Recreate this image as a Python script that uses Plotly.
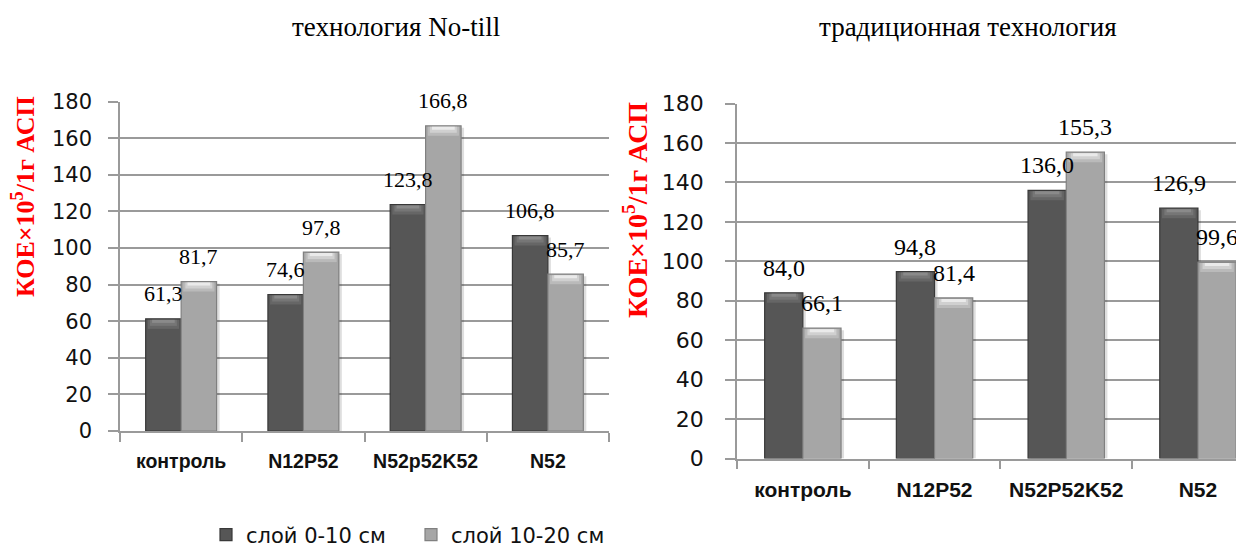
import plotly.graph_objects as go

# ---- data -------------------------------------------------------------
categories_notill = ["контроль", "N12P52", "N52p52K52", "N52"]
categories_trad = ["контроль", "N12P52", "N52P52K52", "N52"]
series_names = ["слой 0-10 см", "слой 10-20 см"]

notill_0_10 = [61.3, 74.6, 123.8, 106.8]
notill_10_20 = [81.7, 97.8, 166.8, 85.7]

trad_0_10 = [84.0, 94.8, 136.0, 126.9]
trad_10_20 = [66.1, 81.4, 155.3, 99.6]

y_ticks = [0, 20, 40, 60, 80, 100, 120, 140, 160, 180]

panel_titles = ["технология No-till", "традиционная технология"]
y_title = "КОЕ×10<sup>5</sup>/1г АСП"

# ---- styling -----------------------------------------------------------
W, H = 1236, 548
GRID = "#9a9a9a"
BAR_W = 0.29

styles = [
    dict(body="#565656", edge="#383838", caps=["#666666", "#767676", "#8a8a8a"]),
    dict(body="#a6a6a6", edge="#808080", caps=["#bababa", "#d0d0d0", "#eaeaea"]),
]

# pixel layout of the two panels (left, right, top, bottom)
panels = [
    dict(x0=120, x1=609, y0=101.7, y1=431, xr=[-0.5, 3.5], cats=categories_notill,
         data=[notill_0_10, notill_10_20], tick_font=21, cat_font=19.5, lab_font=22,
         title_font=26, ytitle=(23, 197), ptitle=(396, 27), y_standoff=12),
    dict(x0=737, x1=1236, y0=103.5, y1=458.5, xr=[-0.5, 3.289], cats=categories_trad,
         data=[trad_0_10, trad_10_20], tick_font=22, cat_font=21, lab_font=24,
         title_font=28, ytitle=(636, 210), ptitle=(968, 27), y_standoff=17),
]

fig = go.Figure()
annotations = []

for p_i, p in enumerate(panels):
    xa = "x" if p_i == 0 else "x2"
    ya = "y" if p_i == 0 else "y2"
    px_per_unit = (p["y1"] - p["y0"]) / 180.0
    px_per_cat = (p["x1"] - p["x0"]) / (p["xr"][1] - p["xr"][0])
    xs = list(range(len(p["cats"])))
    for s_i, values in enumerate(p["data"]):
        st = styles[s_i]
        offset = -BAR_W if s_i == 0 else 0.0
        # soft shadow to the lower right
        fig.add_trace(go.Bar(
            x=xs, y=[v - 2.0 / px_per_unit for v in values], width=BAR_W,
            offset=offset + 3.0 / px_per_cat,
            marker=dict(color="rgba(0,0,0,0.13)", line=dict(width=0)),
            showlegend=False, xaxis=xa, yaxis=ya, hoverinfo="skip",
        ))
        # bar body
        fig.add_trace(go.Bar(
            x=xs, y=values, width=BAR_W, offset=offset,
            marker=dict(color=st["body"], line=dict(color=st["edge"], width=1.2)),
            name=series_names[s_i], legendgroup=series_names[s_i],
            showlegend=(p_i == 0), xaxis=xa, yaxis=ya, hoverinfo="skip",
        ))
        # bevelled top: progressively lighter, narrower strips toward the top edge
        for k, c in enumerate(st["caps"]):
            depth = (9.0 - 3.0 * k) / px_per_unit
            inset = 0.06 + 0.06 * k
            fig.add_trace(go.Bar(
                x=xs, y=[depth] * len(values),
                base=[v - depth - 1.0 / px_per_unit for v in values],
                width=BAR_W * (1 - 2 * inset), offset=offset + BAR_W * inset,
                marker=dict(color=c, line=dict(width=0)),
                showlegend=False, xaxis=xa, yaxis=ya, hoverinfo="skip",
            ))
        # value labels above each bar
        for i, v in enumerate(values):
            annotations.append(dict(
                x=i + offset + BAR_W / 2, y=v, xref=xa, yref=ya,
                text=f"{v:.1f}".replace(".", ","), showarrow=False,
                yshift=25, yanchor="middle", xanchor="center",
                font=dict(family="Liberation Serif", size=p["lab_font"], color="#000"),
            ))
    # vertical axis title
    annotations.append(dict(
        x=p["ytitle"][0] / W, y=1 - p["ytitle"][1] / H, xref="paper", yref="paper",
        text=y_title, textangle=-90, showarrow=False, xanchor="center", yanchor="middle",
        font=dict(family="Liberation Serif", size=p["title_font"], color="#ff0000", weight="bold"),
    ))
    # panel heading
    annotations.append(dict(
        x=p["ptitle"][0] / W, y=1 - p["ptitle"][1] / H, xref="paper", yref="paper",
        text=panel_titles[p_i], showarrow=False, xanchor="center", yanchor="middle",
        font=dict(family="Liberation Serif", size=27, color="#000"),
    ))

    xaxis = dict(
        domain=[p["x0"] / W, p["x1"] / W], range=p["xr"], anchor=ya,
        tickmode="array", tickvals=xs, ticktext=p["cats"], ticks="",
        tickfont=dict(family="Liberation Sans", size=p["cat_font"], color="#111", weight="bold"),
        ticklabelstandoff=12,
        showline=True, linecolor=GRID, linewidth=1.5, showgrid=False, zeroline=False,
        minor=dict(tickvals=[x - 0.5 for x in xs] + [len(xs) - 0.5], ticks="outside",
                   ticklen=9, tickcolor=GRID, tickwidth=1.5, showgrid=False),
        fixedrange=True,
    )
    yaxis = dict(
        domain=[1 - p["y1"] / H, 1 - p["y0"] / H], range=[0, 180], anchor=xa,
        tickmode="array", tickvals=y_ticks, ticks="outside", ticklen=10,
        tickcolor=GRID, tickwidth=1.5,
        tickfont=dict(family="DejaVu Sans", size=p["tick_font"], color="#111"),
        ticklabelstandoff=p["y_standoff"],
        showline=True, linecolor=GRID, linewidth=1.5,
        showgrid=True, gridcolor=GRID, gridwidth=1.5, zeroline=False,
        fixedrange=True,
    )
    if p_i == 0:
        fig.update_layout(xaxis=xaxis, yaxis=yaxis)
    else:
        fig.update_layout(xaxis2=xaxis, yaxis2=yaxis)

fig.update_layout(
    width=W, height=H,
    margin=dict(l=0, r=0, t=0, b=0, autoexpand=False),
    paper_bgcolor="white", plot_bgcolor="white",
    barmode="overlay",
    annotations=annotations,
    showlegend=True,
    legend=dict(
        orientation="h", x=206 / W, xanchor="left", y=13 / H, yanchor="middle",
        font=dict(family="DejaVu Sans", size=21, color="#111"),
        entrywidth=160, entrywidthmode="pixels",
        bgcolor="rgba(0,0,0,0)", itemclick=False, itemdoubleclick=False,
        traceorder="normal",
    ),
)

fig.write_html("out.html")
